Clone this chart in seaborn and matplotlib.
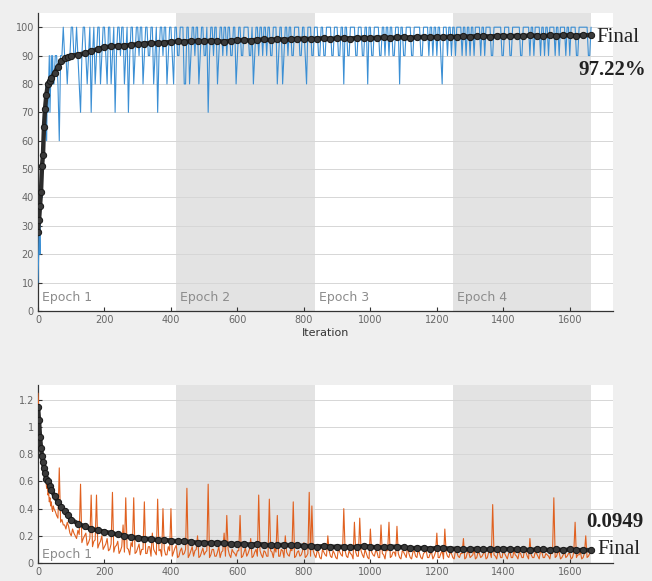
import numpy as np
import pandas as pd
import matplotlib
matplotlib.use("Agg")
import matplotlib.pyplot as plt
import seaborn as sns

# ---------------- data ----------------
epoch_edges = [0, 416, 832, 1248, 1664]
epoch_labels = ["Epoch 1", "Epoch 2", "Epoch 3", "Epoch 4"]
x_ticks = [0, 200, 400, 600, 800, 1000, 1200, 1400, 1600]
acc_yticks = [0, 10, 20, 30, 40, 50, 60, 70, 80, 90, 100]
loss_yticks = [0, 0.2, 0.4, 0.6, 0.8, 1.0, 1.2]
loss_yticklabels = ["0", "0.2", "0.4", "0.6", "0.8", "1", "1.2"]

# raw mini-batch samples, set A (iterations 0..46 step 2, then 48..1664 step 8)
raw_iter_a = list(range(0, 48, 2)) + list(range(48, 1665, 8))
# raw mini-batch samples, set B (iterations 52..1660 step 8)
raw_iter_b = list(range(52, 1661, 8))

acc_raw_a = [
    10, 20, 30, 20, 40, 50, 40, 60, 50, 70, 60, 70, 80, 60, 80, 70, 80, 90, 70, 80, 90, 80, 90, 80,
    80, 90, 60, 90, 90, 80, 90, 100, 90, 90,
    70, 100, 90, 90, 70, 100, 90, 100, 90, 100,
    80, 100, 90, 70, 100, 90, 100, 90, 70, 100,
    80, 100, 90, 100, 90, 100, 90, 100, 90, 70,
    100, 90, 100, 90, 100, 80, 100, 90, 100, 80,
    100, 80, 100, 90, 100, 90, 100, 90, 70, 100,
    90, 100, 90, 100, 100, 90, 100, 90, 100, 90,
    100, 90, 100, 100, 90, 80, 100, 90, 100, 100,
    90, 100, 90, 100, 80, 100, 80, 100, 90, 100,
    90, 100, 100, 90, 100, 80, 100, 90, 100, 100,
    90, 100, 90, 100, 100, 90, 100, 90, 100, 80,
    100, 90, 100, 100, 90, 100, 90, 100, 80, 100,
    90, 100, 100, 90, 100, 100, 90, 100, 90, 100,
    80, 100, 90, 100, 100, 90, 100, 100, 90, 100,
    100, 90, 100, 100, 90, 100, 80, 100, 90, 100,
    100, 90, 100, 100, 100, 90, 100, 100, 90, 100,
    100, 100, 90, 100, 100, 90, 100, 100, 100, 90,
    100, 100, 90, 100, 100, 100, 90, 100, 100, 90,
    100, 100, 100, 90, 100, 100, 90, 100, 100, 100,
    90, 100, 100, 100, 90, 100, 100, 90, 100, 100,
    100, 90, 100,
]

acc_raw_b = [
    90, 80, 90, 100, 90, 90, 100, 90, 100, 80,
    90, 100, 80, 100, 90, 80, 100, 80, 100, 90,
    100, 80, 100, 90, 100, 100, 80, 100, 90, 100,
    90, 100, 100, 80, 100, 90, 100, 80, 100, 90,
    100, 100, 80, 100, 90, 100, 90, 100, 100, 80,
    100, 90, 100, 100, 80, 100, 90, 100, 90, 100,
    100, 80, 100, 90, 100, 100, 90, 100, 80, 100,
    90, 100, 100, 90, 100, 90, 100, 100, 90, 100,
    100, 90, 100, 100, 90, 100, 90, 100, 100, 90,
    100, 100, 90, 100, 90, 100, 100, 90, 100, 90,
    100, 90, 100, 100, 90, 100, 100, 90, 100, 100,
    90, 100, 100, 90, 100, 100, 90, 100, 100, 90,
    100, 100, 90, 100, 90, 100, 100, 90, 100, 100,
    100, 90, 100, 100, 90, 100, 100, 100, 90, 100,
    100, 100, 90, 100, 100, 90, 100, 100, 100, 90,
    100, 100, 100, 90, 100, 100, 90, 100, 100, 100,
    90, 100, 100, 100, 90, 100, 100, 100, 90, 100,
    100, 90, 100, 100, 100, 90, 100, 100, 100, 100,
    90, 100, 100, 100, 90, 100, 100, 100, 90, 100,
    100, 100, 90, 100, 100, 100, 90, 100, 100, 100,
    100, 90,
]

loss_raw_a = [
    1.25, 1.15, 1.05, 0.95, 0.90, 0.85, 0.80, 0.75, 0.72, 0.70, 0.65, 0.62,
    0.60, 0.55, 0.58, 0.50, 0.52, 0.45, 0.48, 0.42, 0.45, 0.40, 0.38, 0.42,
    0.40, 0.35, 0.70, 0.32, 0.28, 0.30, 0.22, 0.25, 0.20, 0.24,
    0.58, 0.18, 0.22, 0.15, 0.50, 0.16, 0.50, 0.14, 0.20, 0.12,
    0.18, 0.10, 0.52, 0.12, 0.16, 0.09, 0.28, 0.48, 0.10, 0.15,
    0.48, 0.08, 0.14, 0.10, 0.45, 0.07, 0.12, 0.22, 0.08, 0.47,
    0.10, 0.40, 0.06, 0.12, 0.40, 0.08, 0.13, 0.05, 0.11, 0.07,
    0.55, 0.06, 0.12, 0.09, 0.20, 0.05, 0.11, 0.08, 0.58, 0.06,
    0.10, 0.05, 0.12, 0.08, 0.22, 0.35, 0.06, 0.10, 0.07, 0.09,
    0.35, 0.05, 0.11, 0.07, 0.18, 0.05, 0.10, 0.50, 0.06, 0.09,
    0.05, 0.47, 0.08, 0.11, 0.35, 0.05, 0.09, 0.20, 0.06, 0.10,
    0.45, 0.05, 0.09, 0.06, 0.15, 0.05, 0.52, 0.42, 0.06, 0.09,
    0.04, 0.10, 0.06, 0.20, 0.05, 0.09, 0.04, 0.11, 0.06, 0.40,
    0.05, 0.09, 0.06, 0.30, 0.05, 0.33, 0.06, 0.10, 0.04, 0.25,
    0.06, 0.09, 0.04, 0.28, 0.06, 0.10, 0.30, 0.05, 0.08, 0.27,
    0.04, 0.09, 0.06, 0.12, 0.04, 0.08, 0.05, 0.10, 0.04, 0.07,
    0.09, 0.04, 0.08, 0.05, 0.22, 0.04, 0.09, 0.25, 0.05, 0.08,
    0.04, 0.09, 0.05, 0.07, 0.18, 0.04, 0.08, 0.05, 0.10, 0.04,
    0.07, 0.05, 0.09, 0.04, 0.08, 0.43, 0.05, 0.08, 0.04, 0.09,
    0.05, 0.07, 0.04, 0.09, 0.05, 0.08, 0.04, 0.10, 0.05, 0.18,
    0.04, 0.08, 0.05, 0.09, 0.04, 0.07, 0.05, 0.09, 0.48, 0.05,
    0.08, 0.04, 0.09, 0.05, 0.07, 0.04, 0.30, 0.06, 0.08, 0.04,
    0.20, 0.05, 0.08,
]

loss_raw_b = [
    0.38, 0.33, 0.30, 0.28, 0.25, 0.27, 0.20, 0.22, 0.18, 0.21,
    0.15, 0.20, 0.13, 0.18, 0.12, 0.17, 0.11, 0.16, 0.10, 0.14,
    0.09, 0.14, 0.08, 0.13, 0.07, 0.12, 0.08, 0.11, 0.06, 0.12,
    0.07, 0.11, 0.06, 0.10, 0.07, 0.12, 0.05, 0.10, 0.06, 0.09,
    0.05, 0.10, 0.06, 0.09, 0.05, 0.11, 0.04, 0.09, 0.06, 0.10,
    0.04, 0.09, 0.05, 0.10, 0.04, 0.08, 0.06, 0.09, 0.04, 0.10,
    0.05, 0.08, 0.04, 0.09, 0.05, 0.10, 0.04, 0.08, 0.05, 0.09,
    0.04, 0.08, 0.05, 0.10, 0.04, 0.08, 0.05, 0.09, 0.04, 0.08,
    0.05, 0.09, 0.04, 0.08, 0.05, 0.10, 0.04, 0.08, 0.05, 0.09,
    0.04, 0.08, 0.05, 0.09, 0.04, 0.07, 0.05, 0.09, 0.04, 0.08,
    0.03, 0.08, 0.05, 0.09, 0.04, 0.07, 0.03, 0.08, 0.05, 0.09,
    0.04, 0.07, 0.03, 0.08, 0.05, 0.09, 0.04, 0.07, 0.03, 0.08,
    0.05, 0.08, 0.04, 0.07, 0.03, 0.09, 0.04, 0.08, 0.05, 0.07,
    0.03, 0.08, 0.04, 0.07, 0.03, 0.09, 0.04, 0.07, 0.03, 0.08,
    0.04, 0.07, 0.03, 0.08, 0.04, 0.07, 0.03, 0.08, 0.04, 0.07,
    0.03, 0.08, 0.04, 0.07, 0.03, 0.08, 0.04, 0.06, 0.03, 0.08,
    0.04, 0.07, 0.03, 0.08, 0.04, 0.06, 0.03, 0.08, 0.04, 0.07,
    0.03, 0.08, 0.04, 0.06, 0.03, 0.07, 0.04, 0.08, 0.03, 0.06,
    0.04, 0.07, 0.03, 0.08, 0.04, 0.06, 0.03, 0.07, 0.04, 0.08,
    0.03, 0.06, 0.04, 0.07, 0.03, 0.08, 0.04, 0.06, 0.03, 0.07,
    0.04, 0.07,
]

smooth_iter = ([0, 3, 6, 9, 12, 15, 18, 21, 25, 30, 35, 40, 50, 60, 70, 80, 90,
                100, 120, 140, 160, 180] + list(range(200, 1641, 20)) + [1664])

acc_smooth = [
    28, 32, 37, 42, 51, 55, 65, 71, 76, 80, 81, 82, 84, 86, 88, 89, 89.5,
    90, 90.3, 90.8, 91.5, 92.3,
    93.0, 93.2, 93.4, 93.5, 93.8, 94.0, 94.2, 94.5, 94.3, 94.6,
    94.8, 95.0, 94.9, 95.1, 95.2, 95.0, 95.3, 95.1, 94.9, 95.2,
    95.4, 95.5, 95.3, 95.6, 95.7, 95.5, 95.8, 95.6, 95.7, 95.9,
    96.0, 95.8, 96.0, 96.1, 95.9, 96.1, 96.2, 96.0, 96.2, 96.3,
    96.1, 96.3, 96.4, 96.2, 96.4, 96.5, 96.3, 96.5, 96.6, 96.4,
    96.6, 96.5, 96.7, 96.6, 96.8, 96.7, 96.8, 96.9, 96.7, 96.9,
    97.0, 96.8, 97.0, 96.9, 97.1, 97.0, 96.9, 97.1, 97.0, 97.2,
    97.1, 97.0, 97.2, 97.22,
]

loss_smooth = [
    1.15, 1.05, 0.93, 0.85, 0.79, 0.74, 0.70, 0.66, 0.62, 0.60, 0.57, 0.54,
    0.49, 0.45, 0.41, 0.38, 0.35, 0.32, 0.29, 0.27, 0.25, 0.24,
    0.23, 0.22, 0.21, 0.20, 0.19, 0.185, 0.18, 0.175, 0.17, 0.17,
    0.165, 0.16, 0.16, 0.155, 0.15, 0.15, 0.145, 0.15, 0.145, 0.14,
    0.14, 0.14, 0.135, 0.14, 0.135, 0.13, 0.13, 0.135, 0.13, 0.13,
    0.125, 0.125, 0.12, 0.125, 0.12, 0.12, 0.12, 0.115, 0.12, 0.125,
    0.12, 0.115, 0.115, 0.12, 0.12, 0.115, 0.11, 0.11, 0.11, 0.105,
    0.11, 0.11, 0.105, 0.105, 0.10, 0.10, 0.105, 0.10, 0.10, 0.10,
    0.105, 0.10, 0.10, 0.10, 0.095, 0.10, 0.10, 0.095, 0.10, 0.095,
    0.10, 0.095, 0.095, 0.0949,
]

final_acc_text = "97.22%"
final_loss_text = "0.0949"

# ---------------- figure ----------------
sns.set_theme(style="white")
plt.rcParams["font.family"] = ["DejaVu Sans"]

BG = "#efefef"
fig = plt.figure(figsize=(6.52, 5.81), dpi=100, facecolor=BG)
ax1 = fig.add_axes([38 / 652, 1 - 311 / 581, 575 / 652, 298 / 581])
ax2 = fig.add_axes([38 / 652, 1 - 563 / 581, 575 / 652, 178 / 581])

raw_df = pd.concat([
    pd.DataFrame({"Iteration": raw_iter_a, "acc": acc_raw_a, "loss": loss_raw_a}),
    pd.DataFrame({"Iteration": raw_iter_b, "acc": acc_raw_b, "loss": loss_raw_b}),
], ignore_index=True).sort_values("Iteration")
sm_df = pd.DataFrame({"Iteration": smooth_iter, "acc": acc_smooth, "loss": loss_smooth})


def style_axes(ax, ylim, yticks, yticklabels=None):
    ax.set_facecolor("white")
    ax.set_xlim(0, 1730)
    ax.set_ylim(*ylim)
    for i in range(len(epoch_edges) - 1):
        if i % 2 == 1:
            ax.axvspan(epoch_edges[i], epoch_edges[i + 1], color="#e3e3e3", zorder=0, lw=0)
    ax.set_axisbelow(True)
    ax.yaxis.grid(True, color="#d6d6d6", lw=0.7)
    ax.xaxis.grid(False)
    ax.set_xticks(x_ticks)
    ax.set_yticks(yticks)
    if yticklabels is not None:
        ax.set_yticklabels(yticklabels)
    for s in ["top", "right"]:
        ax.spines[s].set_visible(False)
    for s in ["left", "bottom"]:
        ax.spines[s].set_color("#333333")
        ax.spines[s].set_linewidth(0.9)
    ax.tick_params(axis="both", direction="in", length=3, width=0.8, color="#333333",
                   labelsize=7, labelcolor="#666666", pad=3)
    ax.tick_params(axis="x", bottom=True)
    ax.tick_params(axis="y", left=True)


style_axes(ax1, (0, 105), acc_yticks)
style_axes(ax2, (0, 1.31), loss_yticks, loss_yticklabels)

# accuracy
sns.lineplot(data=raw_df, x="Iteration", y="acc", ax=ax1, estimator=None,
             color="#3b8fd4", lw=0.8, zorder=3)
sns.lineplot(data=sm_df, x="Iteration", y="acc", ax=ax1, estimator=None,
             color="#2b2b2b", lw=3.2, marker="o", markersize=4.5,
             markeredgecolor="#1a1a1a", markerfacecolor="#3a3a3a", zorder=4)

# loss
sns.lineplot(data=raw_df, x="Iteration", y="loss", ax=ax2, estimator=None,
             color="#e0601f", lw=0.8, zorder=3)
sns.lineplot(data=sm_df, x="Iteration", y="loss", ax=ax2, estimator=None,
             color="#2b2b2b", lw=3.2, marker="o", markersize=4.5,
             markeredgecolor="#1a1a1a", markerfacecolor="#3a3a3a", zorder=4)

ax1.set_xlabel("Iteration", fontsize=8, color="#333333", labelpad=2)
ax1.set_ylabel("")
ax2.set_xlabel("")
ax2.set_ylabel("")

# epoch labels
for i, lab in enumerate(epoch_labels):
    ax1.text(epoch_edges[i] + 12, 2.5, lab, fontsize=9, color="#8c8c8c",
             ha="left", va="bottom", zorder=2)
ax2.text(epoch_edges[0] + 12, 0.015, epoch_labels[0], fontsize=9, color="#8c8c8c",
         ha="left", va="bottom", zorder=2)

# final annotations
serif = ["Liberation Serif", "DejaVu Serif"]
fig.text(596 / 652, 1 - 37 / 581, "Final", family=serif, fontsize=15,
         color="#222222", ha="left", va="center")
fig.text(578 / 652, 1 - 70 / 581, final_acc_text, family=serif, fontsize=15,
         fontweight="bold", color="#222222", ha="left", va="center")
fig.text(586 / 652, 1 - 522 / 581, final_loss_text, family=serif, fontsize=15,
         fontweight="bold", color="#222222", ha="left", va="center")
fig.text(597 / 652, 1 - 549 / 581, "Final", family=serif, fontsize=15,
         color="#222222", ha="left", va="center")

for ax in (ax1, ax2):
    leg = ax.get_legend()
    if leg is not None:
        leg.remove()

fig.savefig("out.png", dpi=100, facecolor=BG)
